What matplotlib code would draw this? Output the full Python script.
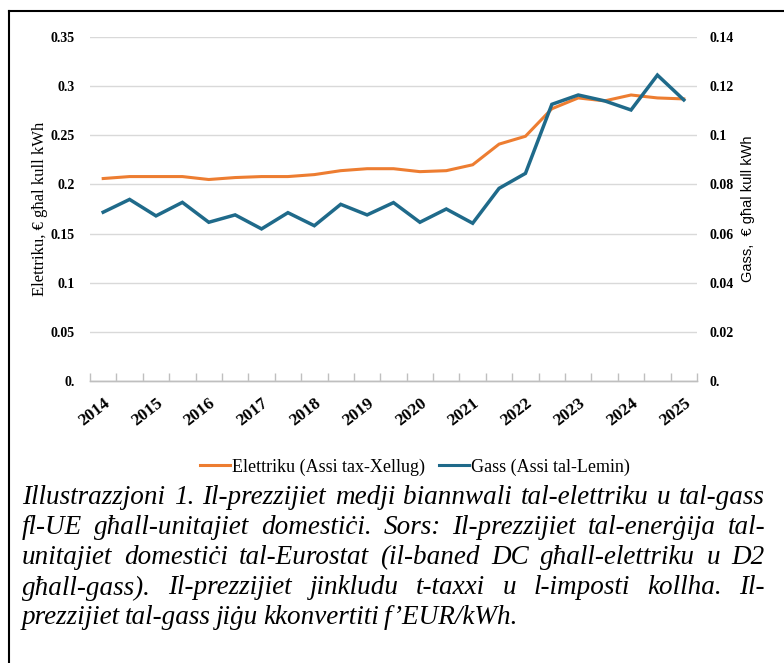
import numpy as np
import matplotlib
matplotlib.use("Agg")
import matplotlib.pyplot as plt
from matplotlib.lines import Line2D

# half-year periods, 2014S1 .. 2025S1
periods = ["2014S1", "2014S2", "2015S1", "2015S2", "2016S1", "2016S2", "2017S1", "2017S2",
           "2018S1", "2018S2", "2019S1", "2019S2", "2020S1", "2020S2", "2021S1", "2021S2",
           "2022S1", "2022S2", "2023S1", "2023S2", "2024S1", "2024S2", "2025S1"]
year_labels = ["2014", "2015", "2016", "2017", "2018", "2019", "2020", "2021",
               "2022", "2023", "2024", "2025"]

elettriku = [0.206, 0.208, 0.208, 0.208, 0.205, 0.207, 0.208, 0.208,
             0.210, 0.214, 0.216, 0.216, 0.213, 0.214, 0.220, 0.241,
             0.249, 0.277, 0.288, 0.285, 0.291, 0.288, 0.287]
gass = [0.0687, 0.0739, 0.0672, 0.0727, 0.0646, 0.0676, 0.0619, 0.0685,
        0.0632, 0.0719, 0.0676, 0.0726, 0.0646, 0.0700, 0.0642, 0.0784,
        0.0845, 0.1126, 0.1164, 0.1140, 0.1103, 0.1245, 0.1144]

left_ticks = [0, 0.05, 0.1, 0.15, 0.2, 0.25, 0.3, 0.35]
left_ticklabels = ["0.", "0.05", "0.1", "0.15", "0.2", "0.25", "0.3", "0.35"]
right_ticks = [0, 0.02, 0.04, 0.06, 0.08, 0.1, 0.12, 0.14]
right_ticklabels = ["0.", "0.02", "0.04", "0.06", "0.08", "0.1", "0.12", "0.14"]

caption_lines = [
    "Illustrazzjoni 1. Il-prezzijiet medji biannwali tal-elettriku u tal-gass",
    "fl-UE għall-unitajiet domestiċi. Sors: Il-prezzijiet tal-enerġija tal-",
    "unitajiet domestiċi tal-Eurostat (il-baned DC għall-elettriku u D2",
    "għall-gass). Il-prezzijiet jinkludu t-taxxi u l-imposti kollha. Il-",
    "prezzijiet tal-gass jiġu kkonvertiti f’EUR/kWh.",
]

ORANGE = "#ED7D31"
BLUE = "#1F6A8A"
W, H = 784, 663
SERIF = "Liberation Serif"

fig = plt.figure(figsize=(W / 100, H / 100), dpi=100)
ax = fig.add_axes([90 / W, 1 - 381 / H, (697 - 90) / W, (381 - 37) / H])
ax2 = ax.twinx()

x = np.arange(len(periods))
ax.plot(x, elettriku, color=ORANGE, lw=2.2, solid_joinstyle="miter", zorder=3)
ax2.plot(x, gass, color=BLUE, lw=2.5, solid_joinstyle="miter", zorder=3)

ax.set_xlim(-0.5, len(periods) - 0.5)
ax.set_ylim(0, 0.35)
ax2.set_ylim(0, 0.14)

ax.set_yticks(left_ticks)
ax.set_yticklabels(left_ticklabels, family=SERIF, fontweight="bold", fontsize=10)
ax2.set_yticks(right_ticks)
ax2.set_yticklabels(right_ticklabels, family=SERIF, fontweight="bold", fontsize=10)
ax.tick_params(axis="y", length=0, pad=11)
ax2.tick_params(axis="y", length=0, pad=9)
ax.yaxis.grid(True, color="#d9d9d9", lw=1)
ax.set_axisbelow(True)

ax.set_xticks(x[::2])
ax.set_xticklabels(year_labels, family=SERIF, fontweight="bold", fontsize=12.5,
                   rotation=38, ha="right", va="top", rotation_mode="anchor")
ax.set_xticks(np.arange(-0.5, len(periods)), minor=True)
ax.tick_params(axis="x", which="major", length=0, pad=10)
ax.tick_params(axis="x", which="minor", direction="in", length=6, color="#bfbfbf", width=1)

for a in (ax, ax2):
    for s in ("top", "left", "right"):
        a.spines[s].set_visible(False)
    a.spines["bottom"].set_color("#bfbfbf")
    a.spines["bottom"].set_linewidth(1)

fig.text(40 / W, 1 - 209 / H, "Elettriku, € għal kull kWh", family=SERIF,
         fontsize=12, rotation=90, ha="center", va="center")
fig.text(748 / W, 1 - 209 / H, "Gass,  € għal kull kWh", family="Liberation Sans",
         fontsize=10.5, rotation=90, ha="center", va="center")

handles = [Line2D([], [], color=ORANGE, lw=2.2), Line2D([], [], color=BLUE, lw=2.2)]
fig.legend(handles, ["Elettriku (Assi tax-Xellug)", "Gass (Assi tal-Lemin)"],
           loc="center", bbox_to_anchor=(415 / W, 1 - 467 / H), ncol=2, frameon=False,
           prop={"family": SERIF, "size": 13}, handlelength=1.65,
           handletextpad=0.1, columnspacing=0.8)

# frame lines (top and left)
fig.add_artist(Line2D([9 / W, 1], [1 - 11 / H, 1 - 11 / H], color="black", lw=1.5))
fig.add_artist(Line2D([9 / W, 9 / W], [1 - 11 / H, 0], color="black", lw=1.5))

# justified caption
CAP_SIZE = 19.5
renderer = fig.canvas.get_renderer()
x0, x1 = 22 / W, 765 / W
y_first = 1 - 498 / H
line_step = 30 / H
for i, line in enumerate(caption_lines):
    y = y_first - i * line_step
    words = line.split(" ")
    texts = [fig.text(0, y, w, family=SERIF, style="italic", fontsize=CAP_SIZE,
                      ha="left", va="center") for w in words]
    widths = [t.get_window_extent(renderer).width / W for t in texts]
    if i < len(caption_lines) - 1:
        gap = (x1 - x0 - sum(widths)) / (len(words) - 1)
    else:
        gap = 5 / W
    pos = x0
    for t, w in zip(texts, widths):
        t.set_x(pos)
        pos += w + gap

fig.savefig("out.png", dpi=100)
